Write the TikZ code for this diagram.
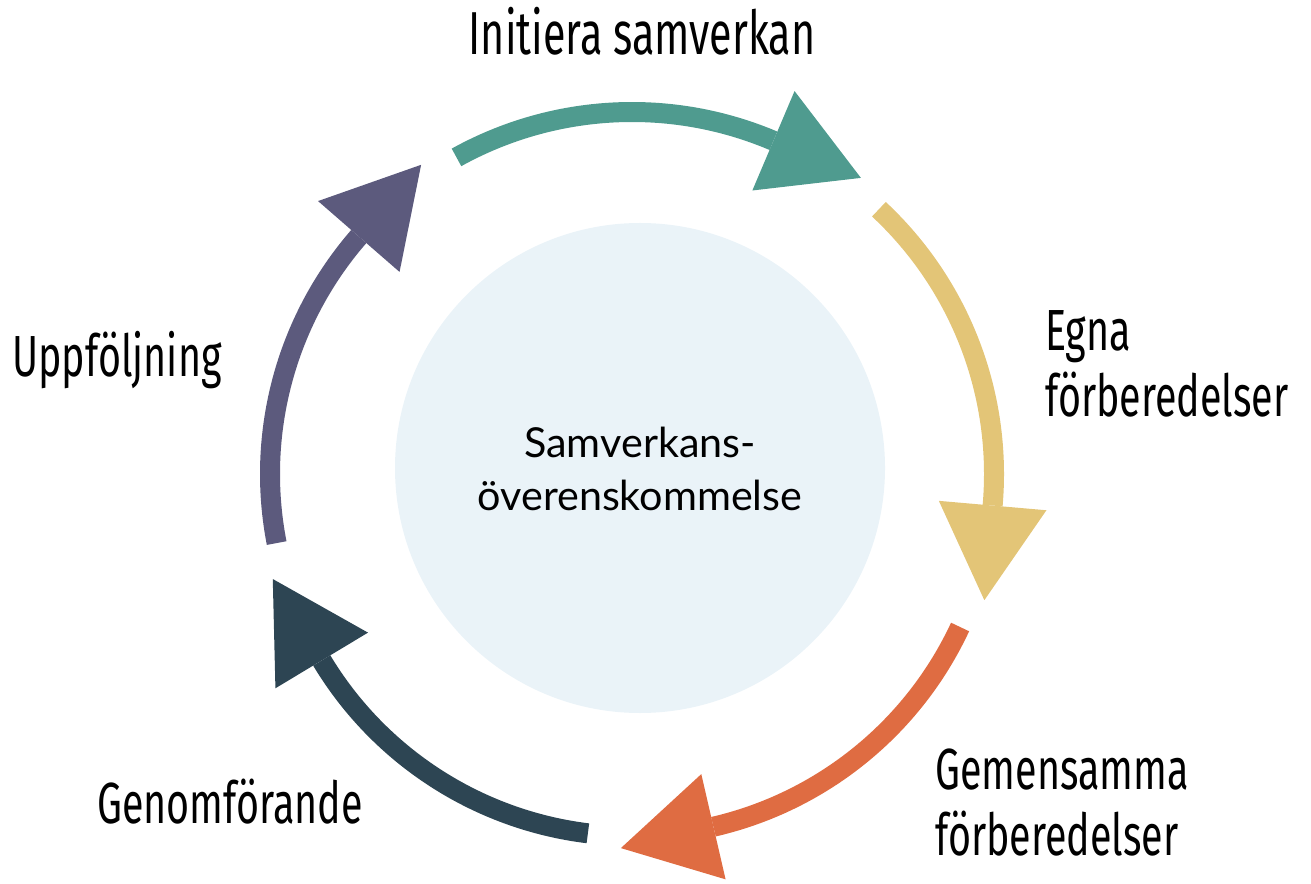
\documentclass[tikz,border=0pt]{standalone}
\usepackage{fontspec}
\usetikzlibrary{calc}
\newfontfamily\labelfont[FakeStretch=0.68]{Fira Sans}
\newfontfamily\centerfont{Lato}
\definecolor{stepteal}{HTML}{4F9B8F}
\definecolor{stepgold}{HTML}{E3C577}
\definecolor{stepcoral}{HTML}{DF6C42}
\definecolor{stepnavy}{HTML}{2D4553}
\definecolor{stepplum}{HTML}{5C5A7D}
\definecolor{hubfill}{HTML}{EAF3F8}
\tikzset{
  ring/.style={line width=0.4cm, line cap=butt},
  phase/.style={font=\labelfont\fontsize{33}{37}\selectfont, inner sep=0pt, align=left},
}

\begin{document}
\begin{tikzpicture}
  \useasboundingbox (0, 0) rectangle (26.22, 17.66);
  \def\R{7.24}
  \coordinate (ctr) at (12.64, 8.18);
  % centre circle
  \fill [hubfill] (12.8, 8.3) circle (4.9);
  \node [font=\centerfont\fontsize{23.5}{30}\selectfont, inner sep=0pt, align=center, anchor=base] (hub) at (12.8, 7.46) {Samverkans-\\överenskommelse};
  % arcs with their arrowheads
  \foreach \col/\s in {stepteal/119, stepgold/47, stepcoral/-25, stepnavy/-97, stepplum/-169} {
    \pgfmathsetmacro\b{\s-52}
    \draw [ring, \col] ($(ctr)+(\s:\R)$) arc [start angle=\s, delta angle=-52, radius=\R];
    \begin{scope}[shift={(ctr)}, rotate=\b]
      \fill [\col] (\R-1.08, 0) -- (\R+1.08, 0) -- (\R, -1.9) -- cycle;
    \end{scope}
  }
  % phase labels (base anchor sits on the last line)
  \node [phase, anchor=base, font=\labelfont\fontsize{34.5}{37}\selectfont] (init) at (12.84, 16.56) {Initiera samverkan};
  \node [phase, anchor=base west] (egna) at (20.9, 9.34) {Egna\\förberedelser};
  \node [phase, anchor=base west] (gem) at (18.7, 0.56) {Gemensamma\\förberedelser};
  \node [phase, anchor=base west] (genom) at (1.94, 1.2) {Genomförande};
  \node [phase, anchor=base west] (uppf) at (0.24, 10.12) {Uppföljning};
\end{tikzpicture}
\end{document}
